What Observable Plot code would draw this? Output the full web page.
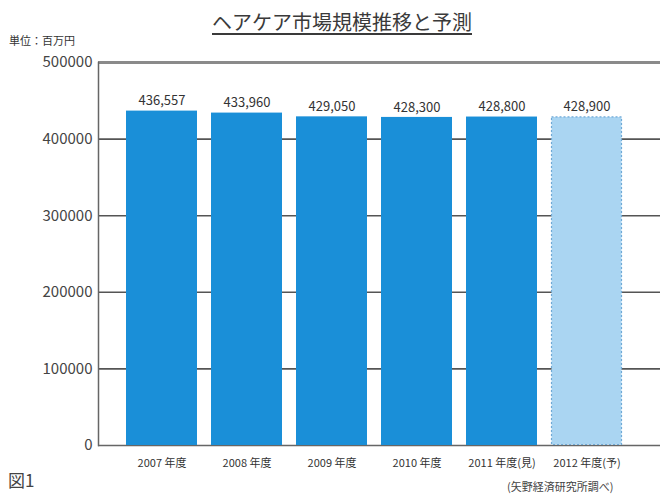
<!DOCTYPE html>
<html>
<head>
<meta charset="utf-8">
<script src="https://cdn.jsdelivr.net/npm/d3@7"></script>
<script src="https://cdn.jsdelivr.net/npm/@observablehq/plot@0.6"></script>
<style>
  html, body { margin: 0; padding: 0; background: #fff; }
  #wrap { position: relative; width: 663px; height: 496px; overflow: hidden; font-family: "Noto Sans CJK JP", "Noto Sans", sans-serif; color: #333; }
  .t { position: absolute; white-space: nowrap; }
  #title { left: 0; width: 684px; text-align: center; top: 7px; font-size: 20px; text-decoration: underline; text-underline-offset: 3px; color: #3a3a3a; }
  #unit { left: 9px; top: 32px; font-size: 11px; color: #333; }
  #fig { left: 8px; top: 467px; font-size: 17px; color: #444; }
  #src { left: 507px; top: 478px; font-size: 11px; color: #444; }
  #chart { position: absolute; left: 0; top: 0; }
</style>
</head>
<body>
<div id="wrap">
  <div id="chart"></div>
  <div class="t" id="title">ヘアケア市場規模推移と予測</div>
  <div class="t" id="unit">単位：百万円</div>
  <div class="t" id="fig">図1</div>
  <div class="t" id="src">(矢野経済研究所調べ)</div>
</div>
<script>
const years = ["2007 年度", "2008 年度", "2009 年度", "2010 年度", "2011 年度(見)", "2012 年度(予)"];
const values = [436557, 433960, 429050, 428300, 428800, 428900];
const projected = [false, false, false, false, false, true];
const yTicks = [0, 100000, 200000, 300000, 400000, 500000];

const data = years.map((y, i) => ({year: y, value: values[i], proj: projected[i]}));
const fmt = d3.format(",");

const chart = Plot.plot({
  width: 663,
  height: 496,
  marginTop: 62,
  marginBottom: 51,
  marginLeft: 98,
  marginRight: 3,
  style: {fontFamily: '"Noto Sans CJK JP", "Noto Sans", sans-serif', background: "transparent"},
  x: {domain: years, range: [126, 622], paddingInner: 0.165, paddingOuter: 0},
  y: {domain: [0, 500000]},
  marks: [
    Plot.ruleY(yTicks.filter(d => d > 0 && d < 500000), {stroke: "#555", strokeWidth: 1.6}),
    Plot.ruleY([500000], {stroke: "#8a8a8a", strokeWidth: 3}),
    Plot.ruleY([0], {stroke: "#666", strokeWidth: 1.5}),
    Plot.frame({anchor: "left", stroke: "#666", strokeWidth: 1.5}),
    Plot.barY(data.filter(d => !d.proj), {x: "year", y: "value", fill: "#1a8fd8"}),
    Plot.barY(data.filter(d => d.proj), {x: "year", y: "value", fill: "#aad5f2", stroke: "#6fa9d6", strokeWidth: 1.2, strokeDasharray: "2,2", inset: 0.5}),
    Plot.text(data, {x: "year", y: "value", text: d => fmt(d.value), dy: -10, fontSize: 13, fill: "#333"}),
    Plot.axisY({ticks: yTicks, tickFormat: d => String(d), tickSize: 0, tickPadding: 6, fontSize: 15, fill: "#444", label: null}),
    Plot.axisX({tickSize: 0, tickPadding: 14, fontSize: 11, fill: "#333", label: null})
  ]
});

document.getElementById("chart").appendChild(chart);
</script>
</body>
</html>
